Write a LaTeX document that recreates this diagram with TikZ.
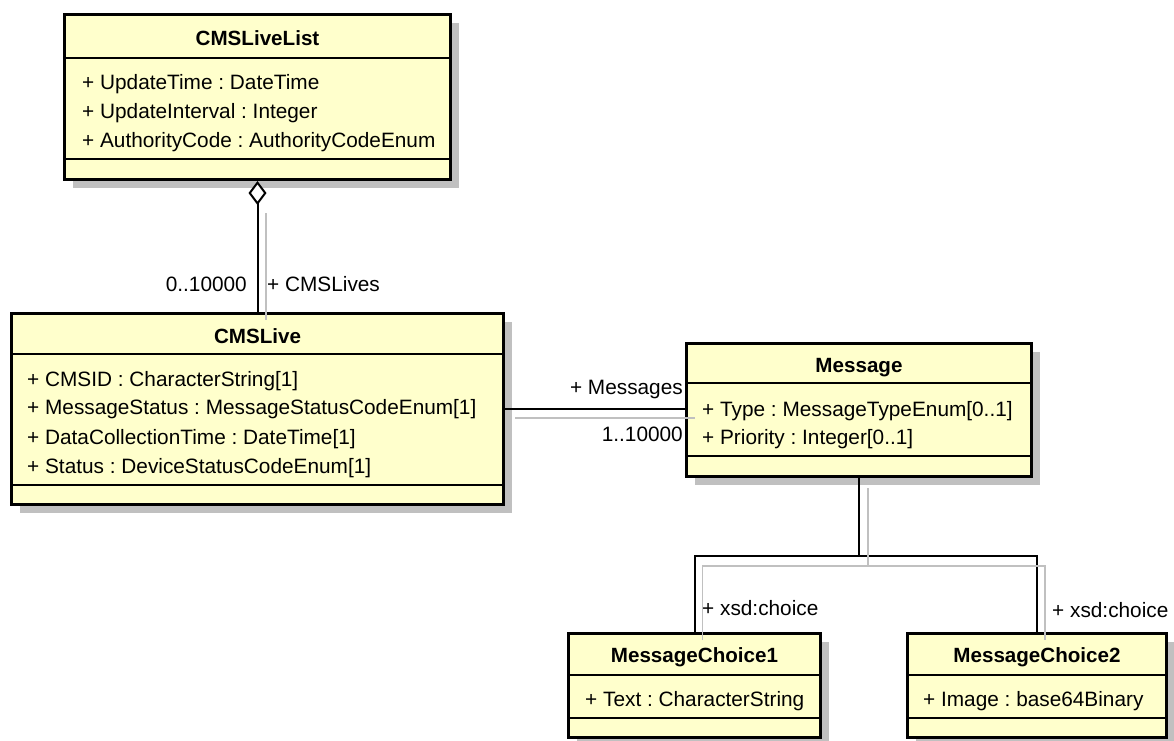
\documentclass[tikz,border=0pt]{standalone}
\usepackage{fontspec}
\setmainfont{Liberation Sans}
\usetikzlibrary{arrows.meta,shadows,calc}
\definecolor{umlfill}{RGB}{255,255,204}
\definecolor{umlshadow}{RGB}{192,192,192}
\frenchspacing
\begin{document}
\begin{tikzpicture}[x=1pt,y=-1pt,
  umlbox/.style={draw=black, line width=3pt, fill=umlfill, rectangle, inner sep=0pt, anchor=north west,
    drop shadow={shadow xshift=8pt, shadow yshift=-8pt, fill=umlshadow, opacity=1}},
  sepline/.style={line width=1.6pt},
  ttl/.style={font=\bfseries\fontsize{20.6}{24}\selectfont, inner sep=0pt, text height=14.5pt, text depth=0pt},
  attr/.style={font=\fontsize{20.8}{24}\selectfont, inner sep=0pt, anchor=west, text height=14.5pt, text depth=0pt},
  lbl/.style={font=\fontsize{20.8}{24}\selectfont, inner sep=0pt, text height=14.5pt, text depth=0pt},
  conn/.style={line width=2pt, draw=black},
  ghost/.style={line width=1.6pt, draw=umlshadow}]

\useasboundingbox (0,0) rectangle (1174,740);

% class boxes
\node[umlbox, minimum width=386pt, minimum height=165pt] (list) at (63,13) {};
\node[umlbox, minimum width=492pt, minimum height=191pt] (live) at (10,312) {};
\node[umlbox, minimum width=345pt, minimum height=133pt] (msg) at (685,342) {};
\node[umlbox, minimum width=252pt, minimum height=104pt] (mc1) at (567,632) {};
\node[umlbox, minimum width=259pt, minimum height=104pt] (mc2) at (906,632) {};

% compartments
\draw[sepline] (list.west |- 0,58) -- (list.east |- 0,58);
\draw[sepline] (list.west |- 0,159) -- (list.east |- 0,159);
\draw[sepline] (live.west |- 0,354) -- (live.east |- 0,354);
\draw[sepline] (live.west |- 0,485) -- (live.east |- 0,485);
\draw[sepline] (msg.west |- 0,383) -- (msg.east |- 0,383);
\draw[sepline] (msg.west |- 0,456) -- (msg.east |- 0,456);
\draw[sepline] (mc1.west |- 0,675) -- (mc1.east |- 0,675);
\draw[sepline] (mc1.west |- 0,718) -- (mc1.east |- 0,718);
\draw[sepline] (mc2.west |- 0,675) -- (mc2.east |- 0,675);
\draw[sepline] (mc2.west |- 0,718) -- (mc2.east |- 0,718);

% titles
\node[ttl] (listT) at (list.center |- 0,38.5) {CMSLiveList};
\node[ttl] (liveT) at (live.center |- 0,336) {CMSLive};
\node[ttl] (msgT) at (msg.center |- 0,365) {Message};
\node[ttl] (mc1T) at (mc1.center |- 0,655.5) {MessageChoice1};
\node[ttl] (mc2T) at (mc2.center |- 0,655.5) {MessageChoice2};

% attributes
\node[attr] (la1) at (82,82.5) {+ UpdateTime : DateTime};
\node[attr] (la2) at (82,111.5) {+ UpdateInterval : Integer};
\node[attr] (la3) at (82,140) {+ AuthorityCode : AuthorityCodeEnum};
\node[attr] (va1) at (27,379.5) {+ CMSID : CharacterString[1]};
\node[attr] (va2) at (27,407.5) {+ MessageStatus : MessageStatusCodeEnum[1]};
\node[attr] (va3) at (27,437) {+ DataCollectionTime : DateTime[1]};
\node[attr] (va4) at (27,466) {+ Status : DeviceStatusCodeEnum[1]};
\node[attr] (ma1) at (702,409.5) {+ Type : MessageTypeEnum[0..1]};
\node[attr] (ma2) at (702,437.5) {+ Priority : Integer[0..1]};
\node[attr] (c1a) at (585,699.5) {+ Text : CharacterString};
\node[attr] (c2a) at (923,699.5) {+ Image : base64Binary};

% aggregation CMSLiveList <>-- CMSLive
\draw[conn, {Diamond[fill=white, length=24pt, width=18pt, line width=2pt]}-] (list.south) -- (live.north);
\draw[ghost] ($(list.south)+(8.5,32)$) -- ($(live.north)+(8.5,8)$);
\node[lbl, anchor=east] (m1) at (247,284) {0..10000};
\node[lbl, anchor=west] (r1) at (267,284) {+ CMSLives};

% association CMSLive -- Message
\draw[conn] (live.east) -- (live.east -| msg.west);
\draw[ghost] ($(live.east)+(10,9)$) -- ($(live.east -| msg.west)+(10,9)$);
\node[lbl, anchor=east] (r2) at (683,387.5) {+ Messages};
\node[lbl, anchor=east] (m2) at (683,434.5) {1..10000};

% composition tree Message -- choices
\coordinate (j) at ($(msg.south)+(0,78)$);
\draw[conn] (msg.south) -- (j);
\draw[conn] (mc1.north) |- (j) -| (mc2.north);
\draw[ghost] ($(msg.south)+(9,10)$) -- ($(j)+(9,10)$);
\draw[ghost] ($(mc1.north)+(8,8)$) |- ($(j)+(9,10)$) -| ($(mc2.north)+(8,8)$);
\node[lbl, anchor=west] (r3) at (702,608.5) {+ xsd:choice};
\node[lbl, anchor=west] (r4) at (1052,610) {+ xsd:choice};
\end{tikzpicture}
\end{document}
